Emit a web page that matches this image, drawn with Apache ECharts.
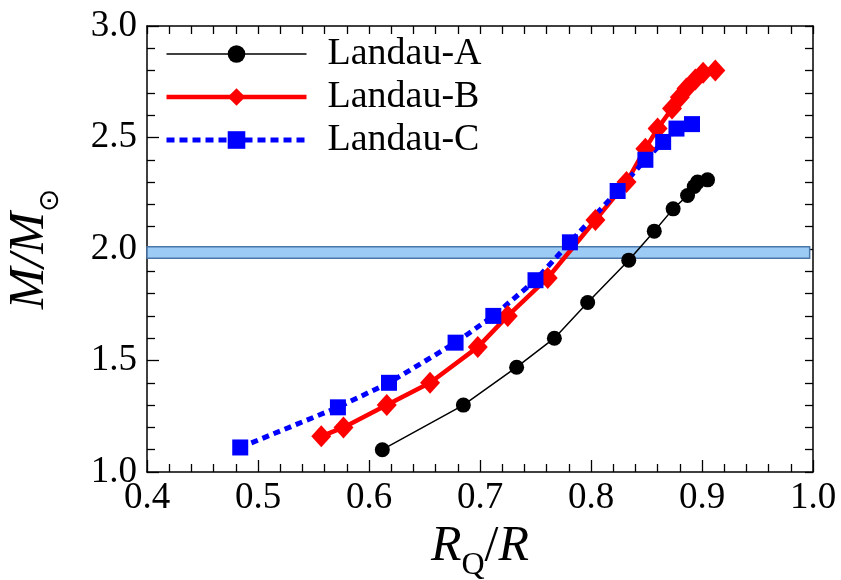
<!DOCTYPE html>
<html>
<head>
<meta charset="utf-8">
<script src="https://cdn.jsdelivr.net/npm/echarts@6/dist/echarts.min.js"></script>
<style>
html,body{margin:0;padding:0;background:#fff;}
#c{width:841px;height:580px;}
</style>
</head>
<body>
<div id="c"></div>
<script>
// ---- data ----
const seriesNames = ['Landau-A', 'Landau-B', 'Landau-C'];
const aX = [0.612, 0.685, 0.733, 0.767, 0.797, 0.834, 0.857, 0.874, 0.887, 0.893, 0.896, 0.905];
const aY = [1.10, 1.30, 1.47, 1.60, 1.76, 1.95, 2.08, 2.18, 2.24, 2.28, 2.30, 2.31];
const bX = [0.557, 0.577, 0.616, 0.655, 0.698, 0.725, 0.761, 0.804, 0.832, 0.849, 0.860, 0.873, 0.880, 0.886, 0.894, 0.901, 0.912];
const bY = [1.16, 1.20, 1.30, 1.40, 1.56, 1.70, 1.87, 2.13, 2.30, 2.45, 2.54, 2.63, 2.68, 2.72, 2.76, 2.79, 2.80];
const cX = [0.484, 0.572, 0.618, 0.678, 0.712, 0.750, 0.781, 0.824, 0.849, 0.865, 0.877, 0.891];
const cY = [1.11, 1.29, 1.40, 1.58, 1.70, 1.86, 2.03, 2.26, 2.40, 2.48, 2.54, 2.56];
const bandX = [0.4, 0.997];
const bandY = [1.958, 2.010];
const xTicks = [0.4, 0.5, 0.6, 0.7, 0.8, 0.9, 1.0];
const yTicks = [1.0, 1.5, 2.0, 2.5, 3.0];

const zip = (xs, ys) => xs.map((x, i) => [x, ys[i]]);
const FONT = 'Liberation Serif';
const colors = ['#000000', '#ff0000', '#0000ff'];
const widths = [1.5, 4.5, 5];

const chart = echarts.init(document.getElementById('c'), null, {renderer: 'canvas'});

const axisCommon = {
  type: 'value',
  axisLine: {show: true, onZero: false, lineStyle: {color: '#000', width: 1.5}},
  splitLine: {show: false},
  axisTick: {show: true, inside: true, length: 12, lineStyle: {color: '#000', width: 1.3}},
  minorTick: {show: true, splitNumber: 5, length: 8, lineStyle: {color: '#000', width: 1.3}},
  minorSplitLine: {show: false}
};

const option = {
  animation: false,
  backgroundColor: '#fff',
  grid: {left: 147, right: 28, top: 26, bottom: 108, containLabel: false, outerBoundsMode: 'none'},
  legend: {
    data: [
      {name: seriesNames[0], lineStyle: {width: widths[0]}},
      {name: seriesNames[1], lineStyle: {width: widths[1]}},
      {name: seriesNames[2], lineStyle: {width: widths[2], type: [8, 5]}}
    ],
    orient: 'vertical',
    left: 159,
    top: 29,
    itemWidth: 140,
    itemHeight: 22,
    itemGap: 3,
    selectedMode: false,
    textStyle: {fontFamily: FONT, fontSize: 38, color: '#000', lineHeight: 40, padding: [0, 0, 0, 16]}
  },
  xAxis: [
    Object.assign({}, axisCommon, {
      position: 'bottom', min: xTicks[0], max: xTicks[xTicks.length - 1], interval: 0.1,
      axisLabel: {show: true, margin: 8, fontFamily: FONT, fontSize: 37, color: '#000',
        formatter: v => v.toFixed(1)},
      name: '{i|R}{s|Q}{n|/}{i|R}',
      nameLocation: 'middle',
      nameGap: 50,
      nameTextStyle: {
        rich: {
          i: {fontFamily: FONT, fontStyle: 'italic', fontSize: 50, lineHeight: 50, verticalAlign: 'top', color: '#000'},
          n: {fontFamily: FONT, fontSize: 50, lineHeight: 50, verticalAlign: 'top', color: '#000'},
          s: {fontFamily: FONT, fontSize: 32, lineHeight: 60, verticalAlign: 'bottom', color: '#000'}
        }
      }
    }),
    Object.assign({}, axisCommon, {
      position: 'top', min: xTicks[0], max: xTicks[xTicks.length - 1], interval: 0.1,
      axisTick: Object.assign({}, axisCommon.axisTick, {length: 8}),
      axisLabel: {show: false}
    })
  ],
  yAxis: [
    Object.assign({}, axisCommon, {
      position: 'left', min: yTicks[0], max: yTicks[yTicks.length - 1], interval: 0.5,
      axisLabel: {show: true, margin: 10, fontFamily: FONT, fontSize: 37, color: '#000',
        formatter: v => v.toFixed(1)},
      name: '{i|M}{n|/}{i|M}{s|⊙}',
      nameLocation: 'middle',
      nameGap: 82,
      nameRotate: 90,
      nameTextStyle: {
        rich: {
          i: {fontFamily: FONT, fontStyle: 'italic', fontSize: 50, lineHeight: 50, verticalAlign: 'top', color: '#000'},
          n: {fontFamily: FONT, fontStyle: 'italic', fontSize: 50, lineHeight: 50, verticalAlign: 'top', color: '#000'},
          s: {fontFamily: 'DejaVu Sans', fontSize: 28, lineHeight: 60, verticalAlign: 'bottom', color: '#000'}
        }
      }
    }),
    Object.assign({}, axisCommon, {
      position: 'right', min: yTicks[0], max: yTicks[yTicks.length - 1], interval: 0.5,
      axisTick: Object.assign({}, axisCommon.axisTick, {length: 8}),
      axisLabel: {show: false}
    })
  ],
  series: [
    {
      name: seriesNames[0], type: 'line', data: zip(aX, aY),
      symbol: 'circle', symbolSize: 15,
      lineStyle: {color: colors[0], width: widths[0]},
      itemStyle: {color: colors[0]}, z: 2
    },
    {
      name: seriesNames[1], type: 'line', data: zip(bX, bY),
      symbol: 'diamond', symbolSize: [20, 22],
      lineStyle: {color: colors[1], width: widths[1]},
      itemStyle: {color: colors[1]}, z: 2
    },
    {
      name: seriesNames[2], type: 'line', data: zip(cX, cY),
      symbol: 'rect', symbolSize: 16,
      lineStyle: {color: colors[2], width: widths[2], type: [7, 5], cap: 'butt'},
      itemStyle: {color: colors[2]}, z: 2
    },
    {
      name: 'band', type: 'line', data: [], z: 4, clip: false,
      markArea: {
        silent: true,
        itemStyle: {color: '#9ccbf5', borderColor: '#4a77a8', borderWidth: 1.5, opacity: 1},
        data: [[{coord: [bandX[0], bandY[1]]}, {coord: [bandX[1], bandY[0]]}]]
      }
    }
  ]
};
chart.setOption(option);
</script>
</body>
</html>
